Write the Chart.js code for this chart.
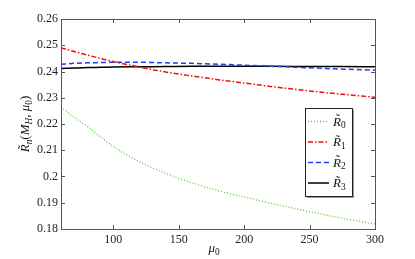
<!DOCTYPE html>
<html><head><meta charset="utf-8">
<script src="https://cdn.jsdelivr.net/npm/chart.js@4.4.1/dist/chart.umd.min.js"></script>
<style>html,body{margin:0;padding:0;background:#fff}canvas{display:block}</style>
</head><body>
<canvas id="c" width="415" height="259"></canvas>
<script>
const mu = [60,70,80,90,100,120,140,160,180,200,225,250,275,300];
const R0 = [0.2265,0.2226,0.2191,0.2152,0.2114,0.2056,0.2012,0.1976,0.1946,0.1922,0.1893,0.1866,0.1841,0.1819];
const R1 = [0.2490,0.2476,0.2463,0.2450,0.2438,0.2417,0.2398,0.2383,0.2369,0.2356,0.2340,0.2326,0.2313,0.2302];
const R2 = [0.2428,0.2431,0.2433,0.2434,0.2435,0.2435,0.2433,0.2431,0.2428,0.2424,0.2419,0.2414,0.2409,0.2405];
const R3 = [0.2411,0.2413,0.2415,0.2416,0.2417,0.2418,0.2419,0.2420,0.2420,0.2420,0.2420,0.2419,0.2419,0.2418];
const seriesSub = ['0','1','2','3'];
const xTicks = [100,150,200,250,300];
const yTicks = [0.18,0.19,0.2,0.21,0.22,0.23,0.24,0.25,0.26];
const yTickLabels = ['0.18','0.19','0.2','0.21','0.22','0.23','0.24','0.25','0.26'];
const xTitleParts = [{t:'\u03bc',i:true},{t:'0',sub:true}];
const yTitleParts = [{t:'R\u0303',i:true},{t:'n',i:true,sub:true},{t:'('},{t:'M',i:true},{t:'H',i:true,sub:true},{t:', '},{t:'\u03bc',i:true},{t:'0',sub:true},{t:')'}];

const SERIF = '"Liberation Serif", "DejaVu Serif", serif';
const styles = [
  {color:'#55c935', dash:[1,2], w:1.3},
  {color:'#ee1111', dash:[5,2,1.5,2], w:1.5},
  {color:'#1f3ff0', dash:[5,3], w:1.5},
  {color:'#000000', dash:[], w:1.5}
];
const series = [R0,R1,R2,R3];

function richWidth(ctx, parts, size){
  let w=0;
  for(const p of parts){
    const s = p.sub ? size*0.72 : size;
    ctx.font = (p.i?'italic ':'') + s + 'px ' + SERIF;
    w += ctx.measureText(p.t).width;
  }
  return w;
}
function drawRich(ctx, parts, x, y, size, align){
  let w = richWidth(ctx, parts, size);
  let cx = align==='center' ? x - w/2 : x;
  ctx.textBaseline = 'alphabetic';
  ctx.textAlign = 'left';
  for(const p of parts){
    const s = p.sub ? size*0.72 : size;
    ctx.font = (p.i?'italic ':'') + s + 'px ' + SERIF;
    ctx.fillText(p.t, cx, y + (p.sub ? size*0.22 : 0));
    cx += ctx.measureText(p.t).width;
  }
}

const framePlugin = {
  id:'frame',
  afterDatasetsDraw(chart){
    const ctx = chart.ctx, a = chart.chartArea;
    const xs = chart.scales.x, ys = chart.scales.y;
    ctx.save();
    ctx.strokeStyle = '#555';
    ctx.lineWidth = 1;
    ctx.setLineDash([]);
    ctx.strokeRect(Math.round(a.left)+0.5, Math.round(a.top)+0.5, Math.round(a.right-a.left), Math.round(a.bottom-a.top));
    const L = 4;
    ctx.beginPath();
    for(const v of xTicks){
      const px = Math.round(xs.getPixelForValue(v))+0.5;
      ctx.moveTo(px, a.bottom); ctx.lineTo(px, a.bottom-L);
      ctx.moveTo(px, a.top); ctx.lineTo(px, a.top+L);
    }
    for(const v of yTicks){
      const py = Math.round(ys.getPixelForValue(v))+0.5;
      ctx.moveTo(a.left, py); ctx.lineTo(a.left+L, py);
      ctx.moveTo(a.right, py); ctx.lineTo(a.right-L, py);
    }
    ctx.stroke();

    // legend
    const bx=305, by=108, bw=47, bh=88;
    ctx.fillStyle='#999';
    ctx.fillRect(bx+2, by+2, bw, bh);
    ctx.fillStyle='#fff';
    ctx.fillRect(bx, by, bw, bh);
    ctx.strokeStyle='#222';
    ctx.strokeRect(bx+0.5, by+0.5, bw, bh);
    const rowY = [121.5,142,162.5,183];
    chart.data.datasets.forEach((ds,i)=>{
      const st = styles[i];
      ctx.strokeStyle = st.color;
      ctx.lineWidth = st.w;
      ctx.setLineDash(st.dash);
      ctx.beginPath();
      ctx.moveTo(308, rowY[i]); ctx.lineTo(329, rowY[i]);
      ctx.stroke();
      ctx.setLineDash([]);
      ctx.fillStyle='#111';
      drawRich(ctx, [{t:'R\u0303',i:true},{t:seriesSub[i],sub:true}], 333, rowY[i]+4, 13, 'left');
    });

    // axis titles
    ctx.fillStyle='#111';
    drawRich(ctx, xTitleParts, 214, 252, 13, 'center');
    ctx.translate(29, 124);
    ctx.rotate(-Math.PI/2);
    drawRich(ctx, yTitleParts, 0, 0, 13, 'center');
    ctx.restore();
  }
};

new Chart(document.getElementById('c'), {
  type:'line',
  data:{
    datasets: series.map((d,i)=>({
      label:'R'+seriesSub[i],
      data: mu.map((m,j)=>({x:m, y:d[j]})),
      borderColor: styles[i].color,
      borderDash: styles[i].dash,
      borderWidth: styles[i].w,
      pointRadius:0,
      fill:false,
      cubicInterpolationMode:'monotone'
    }))
  },
  options:{
    responsive:false,
    animation:false,
    devicePixelRatio:1,
    layout:{padding:{top:19,right:40,left:0,bottom:0}},
    plugins:{legend:{display:false}, tooltip:{enabled:false}},
    scales:{
      x:{
        type:'linear', min:60, max:300,
        grid:{display:false, drawTicks:false},
        border:{display:false},
        afterBuildTicks(s){ s.ticks = xTicks.map(v=>({value:v})); },
        afterFit(s){ s.height = 30; },
        ticks:{font:{family:SERIF,size:12}, color:'#222', padding:4, maxRotation:0, callback:v=>String(v)}
      },
      y:{
        type:'linear', min:0.18, max:0.26,
        grid:{display:false, drawTicks:false},
        border:{display:false},
        afterBuildTicks(s){ s.ticks = yTicks.map(v=>({value:v})); },
        afterFit(s){ s.width = 61; },
        ticks:{font:{family:SERIF,size:12}, color:'#222', padding:3, callback:(v)=>{const k=yTicks.findIndex(t=>Math.abs(t-v)<1e-9); return k>=0?yTickLabels[k]:'';}}
      }
    }
  },
  plugins:[framePlugin]
});
</script>
</body></html>
